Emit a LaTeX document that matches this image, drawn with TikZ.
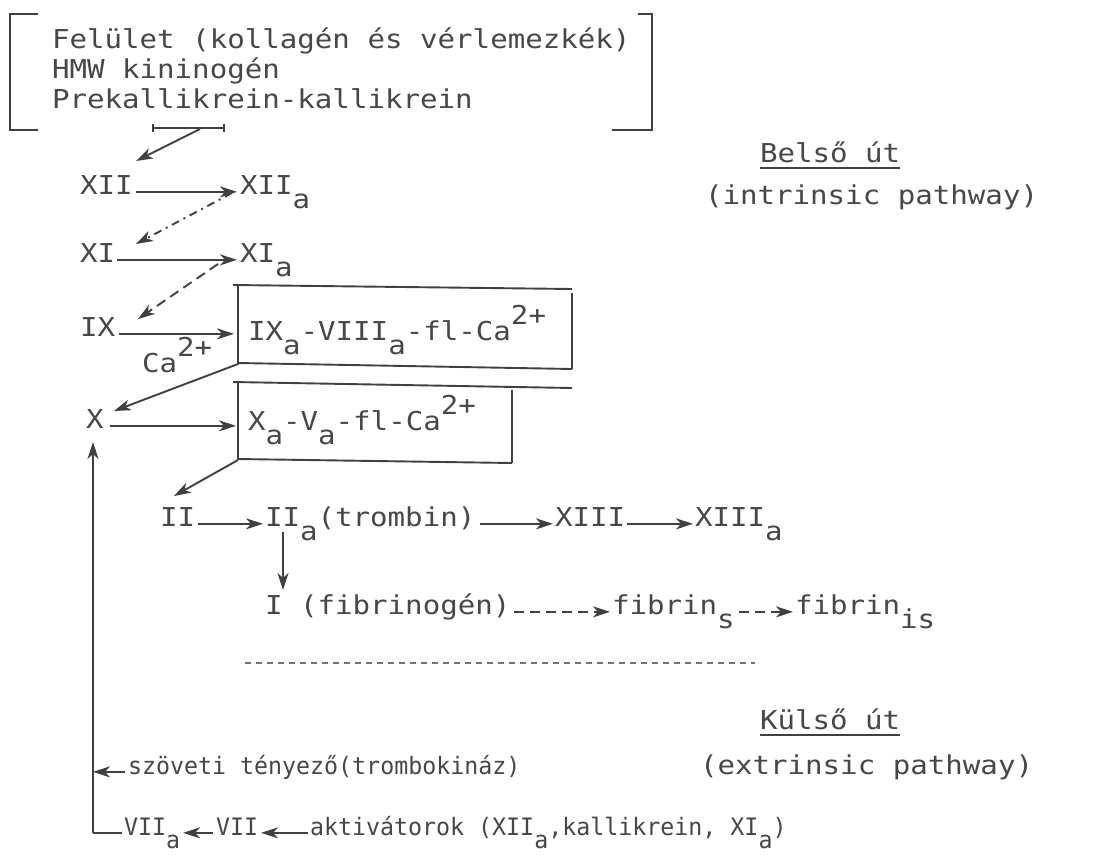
\documentclass[tikz,border=0pt]{standalone}
\usepackage{fontspec}
\setmonofont[FakeStretch=1.12]{DejaVu Sans Mono}
\newfontfamily\narrowtt[FakeStretch=0.97]{DejaVu Sans Mono}
\usetikzlibrary{arrows.meta,calc}

% typewriter-style lowered / raised characters
\newcommand\lowr[1]{\raisebox{-0.55em}{#1}}
\newcommand\highr[1]{\raisebox{0.6em}{#1}}

\begin{document}
\begin{tikzpicture}[x=1pt,y=-1pt,
  ink/.style={draw=black!75,line width=1.9pt},
  arr/.style={ink,-{Stealth[length=17pt,width=11pt,inset=5pt]}},
  dasharr/.style={arr,dash pattern=on 10pt off 6pt},
  dotarr/.style={arr,dash pattern=on 8pt off 5pt on 2pt off 5pt},
  txt/.style={anchor=base west,inner sep=0pt,outer sep=0pt,text=black!72,
    font=\ttfamily\fontsize{26}{30}\selectfont},
  txtn/.style={txt,font=\narrowtt\fontsize{24}{28}\selectfont}]
\useasboundingbox (0,0) rectangle (1104,860);
\fill[white] (0,0) rectangle (1104,860);

% ---- surface factors in brackets
\node[txt] (l1) at (52,48)  {Felület (kollagén és vérlemezkék)};
\node[txt] (l2) at (52,78)  {HMW kininogén};
\node[txt] (l3) at (52,108) {Prekallikrein-kallikrein};
\draw[ink] (38,14) -- (10,14) -- (10,130) -- (38,130);
\draw[ink] (638,14) -- (652,14) -- (652,130) -- (612,130);

\coordinate (barL) at (152,128);
\coordinate (barR) at (225,128);
\coordinate (barM) at (200,129);
\draw[ink,{Bar[width=8pt]}-{Bar[width=8pt]}] (barL) -- (barR);

% ---- intrinsic cascade
\node[txt] (XII)  at (80,194)  {XII};
\node[txt] (XIIa) at (240,194) {XII\lowr{a}};
\node[txt] (XI)   at (80,262)  {XI};
\node[txt] (XIa)  at (240,262) {XI\lowr{a}};
\node[txt] (IX)   at (80,336)  {IX};
\node[txt] (cx1)  at (248,340) {IX\lowr{a}-VIII\lowr{a}-fl-Ca\highr{2+}};
\node[txt] (ca)   at (142,372) {Ca\highr{2+}};
\node[txt] (X)    at (86,428)  {X};
\node[txt] (cx2)  at (248,430) {X\lowr{a}-V\lowr{a}-fl-Ca\highr{2+}};

\coordinate (xiiTip) at (136,161);
\coordinate (xiaTail) at (232,193);
\coordinate (xiTip) at (136,244);
\coordinate (xiaOut) at (218,264);
\coordinate (ixTip) at (138,319);
\coordinate (b1in) at (234,329);
\coordinate (b1c) at (238,364);
\coordinate (xTip) at (114,411);
\coordinate (b2in) at (236,420);
\coordinate (b2c) at (238,460);
\coordinate (iiTip) at (174,496);

\draw[arr] (barM) -- (xiiTip);
\draw[arr] ([xshift=3pt]XII.mid east) -- ([xshift=-3pt]XIIa.mid west);
\draw[dotarr] (xiaTail) -- (xiTip);
\draw[arr] ([xshift=2pt]XI.mid east) -- ([xshift=-3pt]XIa.mid west);
\draw[dasharr] (xiaOut) -- (ixTip);
\draw[arr] ([xshift=4pt]IX.mid east) -- (IX.mid east -| b1in);

% complex boxes
\draw[ink] (233,285) -- (572,289);
\draw[ink] (238,285) -- (238,365);
\draw[ink] (572,293) -- (572,369);
\draw[ink] (238,363) -- (572,369);
\draw[ink] (233,382) -- (572,388);
\draw[ink] (238,382) -- (238,460);
\draw[ink] (512,390) -- (512,463);
\draw[ink] (238,459) -- (512,463);

\draw[arr] (b1c) -- (xTip);
\draw[arr] ([xshift=6pt]X.mid east) -- (X.mid east -| b2in);
\draw[arr] (b2c) -- (iiTip);

% ---- common pathway
\node[txt] (II)    at (160,526) {II};
\node[txt] (IIa)   at (265,526) {II\lowr{a}(trombin)};
\node[txt] (XIII)  at (555,526) {XIII};
\node[txt] (XIIIa) at (695,526) {XIII\lowr{a}};
\node[txt] (I)     at (265,614) {I (fibrinogén)};
\node[txt] (fs)    at (612,614) {fibrin\lowr{s}};
\node[txt] (fis)   at (795,614) {fibrin\lowr{is}};

\coordinate (iiDown) at (283,532);
\coordinate (iTip) at (283,590);

\draw[arr] ([xshift=3pt]II.mid east) -- ([xshift=-2pt]IIa.mid west);
\draw[arr] ([xshift=5pt]IIa.mid east) -- ([xshift=-2pt]XIII.mid west);
\draw[arr] ([xshift=2pt]XIII.mid east) -- ([xshift=-2pt]XIIIa.mid west);
\draw[arr,line width=1.4pt] (iiDown) -- (iTip);
\draw[dasharr] ([xshift=4pt]I.mid east) -- ([xshift=-2pt]fs.mid west);
\draw[dasharr] ([xshift=4pt]fs.mid east) -- ([xshift=-2pt]fis.mid west);

% separator
\coordinate (sepL) at (245,663);
\coordinate (sepR) at (755,663);
\draw[draw=black!55,line width=1.2pt,dash pattern=on 6pt off 5pt] (sepL) -- (sepR);

% ---- pathway labels
\node[txt] (belso) at (760,162) {Belső út};
\draw[ink,line width=1.6pt] ([yshift=-6pt]belso.base west) -- ([yshift=-6pt]belso.base east);
\node[txt] (intr) at (705,204) {(intrinsic pathway)};
\node[txt] (kulso) at (760,729) {Külső út};
\draw[ink,line width=1.6pt] ([yshift=-6pt]kulso.base west) -- ([yshift=-6pt]kulso.base east);
\node[txt] (extr) at (700,774) {(extrinsic pathway)};

% ---- extrinsic pathway
\node[txtn] (szov) at (128,774) {szöveti tényező(trombokináz)};
\node[txtn] (VIIa) at (124,835) {VII\lowr{a}};
\node[txtn] (VII)  at (216,835) {VII};
\node[txtn] (akt)  at (310,835) {aktivátorok (XII\lowr{a},kallikrein, XI\lowr{a})};

\coordinate (upTip) at (93,442);
\coordinate (corner) at (upTip |- VIIa.mid west);
\coordinate (szTip) at (upTip |- szov.mid west);

\draw[arr,line width=1.4pt] (corner) -- (upTip);
\draw[arr] ([xshift=-3pt]szov.mid west) -- (szTip);
\draw[ink] (corner) -- ([xshift=-2pt]VIIa.mid west);
\draw[arr] ([xshift=-3pt]VII.mid west) -- ([xshift=3pt]VIIa.mid east);
\draw[arr] ([xshift=-2pt]akt.mid west) -- ([xshift=3pt]VII.mid east);
\end{tikzpicture}
\end{document}
